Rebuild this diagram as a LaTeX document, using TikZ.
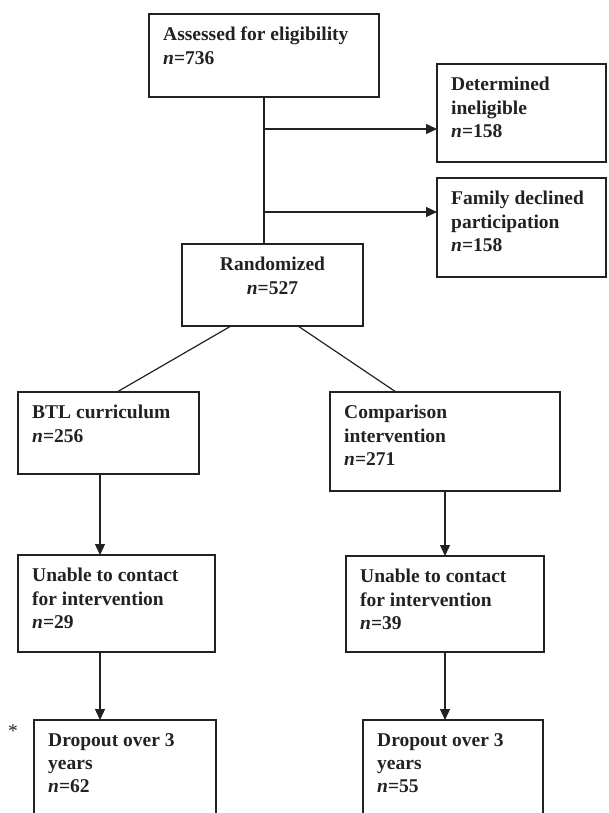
\documentclass[tikz,border=0pt]{standalone}
\usepackage{fontspec}
\setmainfont{Liberation Serif}
\usetikzlibrary{arrows.meta, positioning}
\definecolor{flowink}{HTML}{222222}

\begin{document}
\begin{tikzpicture}[x=1pt, y=-1pt,
  flowbox/.style={draw=flowink, line width=1.2pt, anchor=north west, inner sep=0, outer sep=0},
  boxtext/.style={inner sep=0, align=left, text=flowink, font=\fontsize{19.5}{23.3}\selectfont\bfseries},
  flowline/.style={draw=flowink, line width=1.2pt},
  flowarrow/.style={flowline, -{Triangle[length=11pt, width=10pt]}}]
  \useasboundingbox (0,0) rectangle (608,813);
  \clip (0,0) rectangle (608,813);

  % Screening
  \node[flowbox, minimum width=230pt, minimum height=83pt] (assess) at (149,14) {};
  \node[boxtext, below right=13pt and 14pt of assess.north west] (assess-txt) {Assessed for eligibility\\\textit{n}=736};

  \node[flowbox, minimum width=169pt, minimum height=98pt] (det) at (437,64) {};
  \node[boxtext, below right=13pt and 14pt of det.north west] (det-txt) {Determined\\ineligible\\\textit{n}=158};

  \node[flowbox, minimum width=169pt, minimum height=99pt] (decl) at (437,178) {};
  \node[boxtext, below right=13pt and 14pt of decl.north west] (decl-txt) {Family declined\\participation\\\textit{n}=158};

  \node[flowbox, minimum width=181pt, minimum height=82pt] (rand) at (182,244) {};
  \node[boxtext, align=center, below=13pt of rand.north] (rand-txt) {Randomized\\\textit{n}=527};

  % Study arms
  \node[flowbox, minimum width=181pt, minimum height=82pt] (btl) at (18,392) {};
  \node[boxtext, below right=13pt and 14pt of btl.north west] (btl-txt) {BTL curriculum\\\textit{n}=256};

  \node[flowbox, minimum width=230pt, minimum height=99pt] (comp) at (330,392) {};
  \node[boxtext, below right=13pt and 14pt of comp.north west] (comp-txt) {Comparison\\intervention\\\textit{n}=271};

  \node[flowbox, minimum width=197pt, minimum height=97pt] (unable1) at (18,555) {};
  \node[boxtext, below right=13pt and 14pt of unable1.north west] (unable1-txt) {Unable to contact\\for intervention\\\textit{n}=29};

  \node[flowbox, minimum width=198pt, minimum height=96pt] (unable2) at (346,556) {};
  \node[boxtext, below right=13pt and 14pt of unable2.north west] (unable2-txt) {Unable to contact\\for intervention\\\textit{n}=39};

  % Dropout (boxes run past the page foot)
  \node[flowbox, minimum width=182pt, minimum height=110pt] (drop1) at (34,720) {};
  \node[boxtext, below right=13pt and 14pt of drop1.north west] (drop1-txt) {Dropout over 3\\years\\\textit{n}=62};

  \node[flowbox, minimum width=180pt, minimum height=110pt] (drop2) at (363,720) {};
  \node[boxtext, below right=13pt and 14pt of drop2.north west] (drop2-txt) {Dropout over 3\\years\\\textit{n}=55};

  \node[text=flowink, inner sep=0, font=\fontsize{19.5}{23.3}\selectfont] (star) at (13,731) {*};

  % Connectors
  \coordinate (split1) at (264,129);
  \coordinate (split2) at (264,212);
  \draw[flowline] (assess.south) -- (assess.south |- rand.north);
  \draw[flowarrow] (split1) -- (split1 -| det.west);
  \draw[flowarrow] (split2) -- (split2 -| decl.west);

  \draw[flowline] ([xshift=49pt]rand.south west) -- ([xshift=99pt]btl.north west);
  \draw[flowline] ([xshift=116pt]rand.south west) -- ([xshift=66pt]comp.north west);

  \coordinate (btl-out) at ([xshift=82pt]btl.south west);
  \coordinate (unable1-out) at ([xshift=82pt]unable1.south west);
  \draw[flowarrow] (btl-out) -- (btl-out |- unable1.north);
  \draw[flowarrow] (unable1-out) -- (unable1-out |- drop1.north);
  \draw[flowarrow] (comp.south) -- (comp.south |- unable2.north);
  \draw[flowarrow] (unable2.south) -- (unable2.south |- drop2.north);
\end{tikzpicture}
\end{document}
